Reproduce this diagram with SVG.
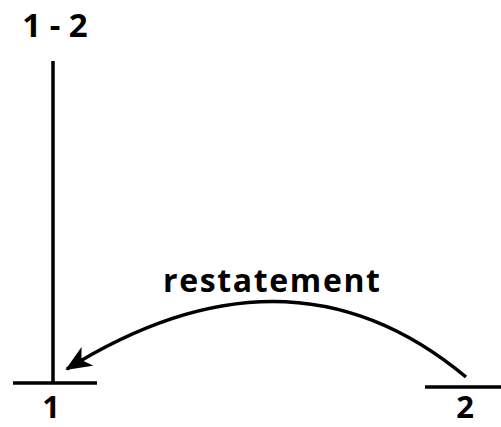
<svg xmlns="http://www.w3.org/2000/svg" width="501" height="427" viewBox="0 0 501 427">
<style>
.t{font-family:"Open Sans","Liberation Sans",sans-serif;font-weight:bold;fill:#000}
.l{stroke:#000;stroke-width:3.5;fill:none}
</style>
<defs>
<marker id="ah" viewBox="0 0 26 22" refX="24" refY="11" markerWidth="26" markerHeight="22" markerUnits="userSpaceOnUse" orient="auto">
<path d="M0,0 L26,11 L0,22 L7,11 z" fill="#000"/>
</marker>
</defs>
<rect width="501" height="427" fill="#fff"/>
<g id="node-12">
<text class="t" x="55" y="37" font-size="33" text-anchor="middle">1 - 2</text>
<line class="l" x1="53" y1="61" x2="53" y2="383"/>
</g>
<g id="node-1">
<line class="l" x1="13" y1="383" x2="97" y2="383"/>
<text class="t" x="51" y="418" font-size="31" text-anchor="middle">1</text>
</g>
<g id="node-2">
<line class="l" x1="425" y1="387" x2="501" y2="387"/>
<text class="t" x="465" y="418" font-size="31" text-anchor="middle">2</text>
</g>
<g id="connectors">
<path class="l" d="M466,377 Q290,230 67,369" marker-end="url(#ah)"/>
<text class="t" x="163" y="292" font-size="32" textLength="217" lengthAdjust="spacing">restatement</text>
</g>
</svg>
